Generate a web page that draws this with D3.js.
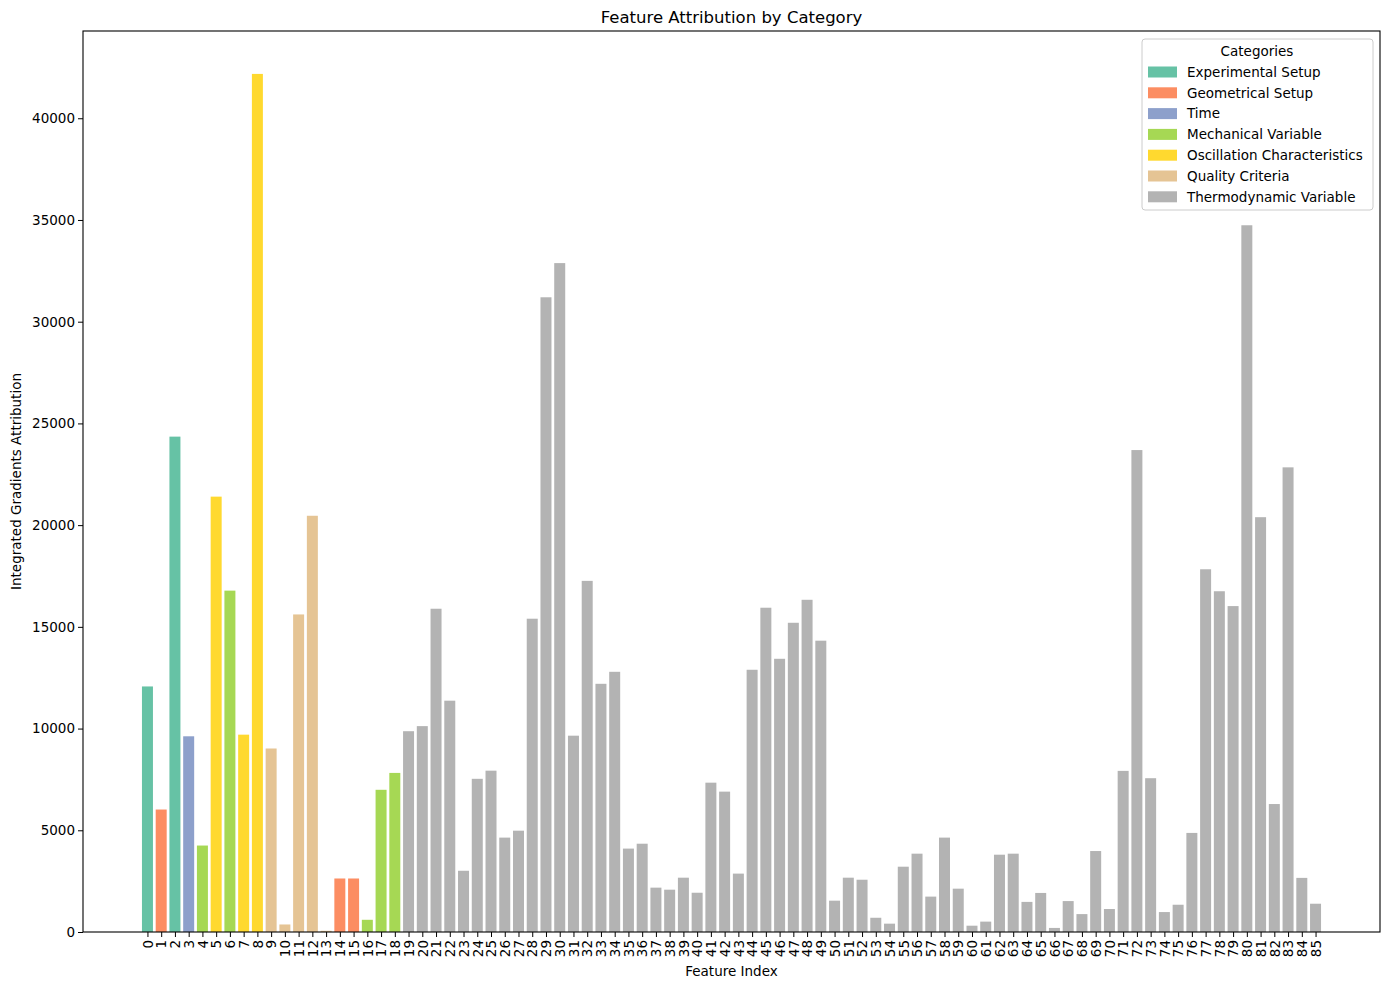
<!DOCTYPE html>
<html>
<head>
<meta charset="utf-8">
<script src="https://cdn.jsdelivr.net/npm/d3@7"></script>
<style>
  body { margin: 0; background: #fff; }
  svg text { font-family: "DejaVu Sans", sans-serif; fill: #000; }
</style>
</head>
<body>
<div class="chart"></div>
<script>
// attribution value for each feature index (0..85)
const attributions = [
  12070, 6020, 24350, 9620, 4250, 21400, 16780, 9700, 42180, 9020,
  370, 15610, 20460, 60, 2630, 2630, 600, 6990, 7820, 9870,
  10120, 15890, 11370, 3010, 7530, 7930, 4640, 4980, 15400, 31200,
  32880, 9650, 17260, 12200, 12790, 4100, 4340, 2180, 2080, 2670,
  1930, 7340, 6900, 2870, 12890, 15940, 13430, 15200, 16330, 14320,
  1540, 2670, 2570, 700, 410, 3210, 3850, 1740, 4640, 2130,
  310, 510, 3800, 3850, 1480, 1920, 200, 1520, 880, 3980,
  1130, 7920, 23690, 7560, 980, 1340, 4870, 17830, 16750, 16020,
  34740, 20390, 6290, 22840, 2660, 1390
];

const categories = ["Experimental Setup", "Geometrical Setup", "Time", "Mechanical Variable",
  "Oscillation Characteristics", "Quality Criteria", "Thermodynamic Variable"];
const categoryColors = ["#66c2a5", "#fc8d62", "#8da0cb", "#a6d854", "#ffd92f", "#e5c494", "#b3b3b3"];

// category of every feature, by position in the categories list
const featureCategory = [
  0, 1, 0, 2, 3, 4, 3, 4, 4, 5,
  5, 5, 5, 5, 1, 1, 3, 3, 3
].concat(d3.range(19, 86).map(() => 6));

const yTicks = [0, 5000, 10000, 15000, 20000, 25000, 30000, 35000, 40000];

var W = 1390, H = 989;
// plot box (note: can't call these top/left, window.top is read-only)
var pLeft = 83, pRight = 1380, pTop = 31, pBottom = 932;

var svg = d3.select(".chart").append("svg")
  .attr("width", W)
  .attr("height", H);

var data = attributions.map((v, i) => ({ idx: i, value: v, cat: featureCategory[i] }));

// matplotlib style padding: 5% margin either side of the bar extents
var xMin = -0.4, xMax = data.length - 1 + 0.4;
var pad = (xMax - xMin) * 0.05;
var x = d3.scaleLinear()
  .domain([xMin - pad, xMax + pad])
  .range([pLeft, pRight]);

var y = d3.scaleLinear()
  .domain([0, d3.max(attributions) * 1.05])
  .range([pBottom, pTop]);

var color = d3.scaleOrdinal().domain(d3.range(categories.length)).range(categoryColors);

// bars
svg.append("g")
  .selectAll("rect")
  .data(data)
  .enter().append("rect")
  .attr("x", d => x(d.idx - 0.4))
  .attr("width", d => x(0.8) - x(0))
  .attr("y", d => y(d.value))
  .attr("height", d => y(0) - y(d.value))
  .attr("fill", d => color(d.cat));

// x axis
var xAxis = svg.append("g")
  .attr("transform", "translate(0," + pBottom + ")")
  .call(d3.axisBottom(x).tickValues(d3.range(data.length)).tickFormat(d3.format("d")).tickSize(5).tickSizeOuter(0));
xAxis.select(".domain").remove();
xAxis.selectAll("text")
  .attr("transform", "rotate(-90)")
  .attr("x", -8)
  .attr("y", 0)
  .attr("dy", "0.35em")
  .style("text-anchor", "end")
  .style("font-size", "13.5px");

// y axis
var yAxis = svg.append("g")
  .attr("transform", "translate(" + pLeft + ",0)")
  .call(d3.axisLeft(y).tickValues(yTicks).tickFormat(d3.format("d")).tickSize(5).tickSizeOuter(0));
yAxis.select(".domain").remove();
yAxis.selectAll("text").attr("x", -8).style("font-size", "13.5px");

// frame
svg.append("rect")
  .attr("x", pLeft).attr("y", pTop)
  .attr("width", pRight - pLeft).attr("height", pBottom - pTop)
  .attr("fill", "none").attr("stroke", "#000").attr("stroke-width", 1.1);

// titles
svg.append("text")
  .text("Feature Attribution by Category")
  .attr("x", (pLeft + pRight) / 2).attr("y", 23)
  .attr("text-anchor", "middle")
  .style("font-size", "16.5px");

svg.append("text")
  .text("Feature Index")
  .attr("x", (pLeft + pRight) / 2).attr("y", 976)
  .attr("text-anchor", "middle")
  .style("font-size", "13.5px");

svg.append("text")
  .text("Integrated Gradients Attribution")
  .attr("transform", "translate(21," + (pTop + pBottom) / 2 + ") rotate(-90)")
  .attr("text-anchor", "middle")
  .style("font-size", "13.5px");

// legend
var legend = svg.append("g").attr("transform", "translate(1142,39)");
legend.append("rect")
  .attr("width", 231).attr("height", 171)
  .attr("rx", 3)
  .attr("fill", "#fff").attr("fill-opacity", 0.8)
  .attr("stroke", "#ccc");
legend.append("text")
  .text("Categories")
  .attr("x", 115).attr("y", 17)
  .attr("text-anchor", "middle")
  .style("font-size", "13.5px");

var items = legend.selectAll(".item")
  .data(categories)
  .enter().append("g")
  .attr("transform", (d, i) => "translate(6," + (33 + i * 20.8) + ")");
items.append("rect")
  .attr("width", 29).attr("height", 11)
  .attr("y", -5.5)
  .attr("fill", (d, i) => color(i));
items.append("text")
  .text(d => d)
  .attr("x", 39).attr("dy", "0.35em")
  .style("font-size", "13.5px");
</script>
</body>
</html>
